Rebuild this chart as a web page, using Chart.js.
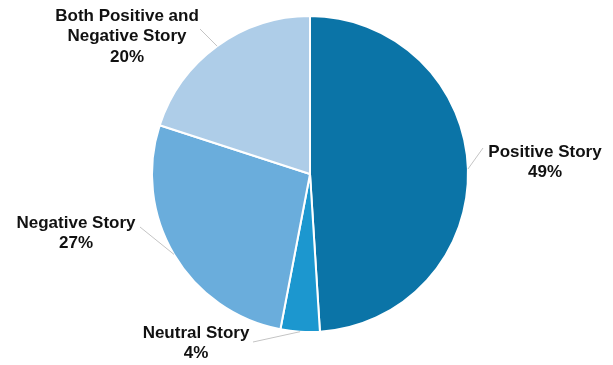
<!DOCTYPE html>
<html>
<head>
<meta charset="utf-8">
<script src="https://cdn.jsdelivr.net/npm/chart.js@4"></script>
<style>
  html, body { margin: 0; padding: 0; background: #fff; }
  #wrap { width: 613px; height: 365px; }
</style>
</head>
<body>
<div id="wrap"><canvas id="pie" width="613" height="365"></canvas></div>
<script>
const categories = ['Positive Story', 'Neutral Story', 'Negative Story', 'Both Positive and Negative Story'];
const shares = [49, 4, 27, 20];
const labelLines = [
    ['Positive Story', '49%'],
    ['Neutral Story', '4%'],
    ['Negative Story', '27%'],
    ['Both Positive and', 'Negative Story', '20%']
];
const colors = ['#0b74a7', '#1c97cf', '#6aaddc', '#aecde8'];

// label placement relative to pie centre: text centre of first line + where the leader stops
const placement = [
    { x: 235, y: -22, lx: 173, ly: -26 },
    { x: -114, y: 159, lx: -57, ly: 168 },
    { x: -234, y: 49, lx: -170, ly: 53 },
    { x: -183, y: -158, lx: -110, ly: -145 }
];

const calloutPlugin = {
    id: 'callouts',
    afterDatasetsDraw(chart) {
        const ctx = chart.ctx;
        const meta = chart.getDatasetMeta(0);
        ctx.save();
        meta.data.forEach((arc, i) => {
            const p = arc.getProps(['x', 'y', 'startAngle', 'endAngle', 'outerRadius'], true);
            const mid = (p.startAngle + p.endAngle) / 2;
            const ex = p.x + Math.cos(mid) * p.outerRadius;
            const ey = p.y + Math.sin(mid) * p.outerRadius;
            const pl = placement[i];
            ctx.strokeStyle = '#c4c4c4';
            ctx.lineWidth = 1;
            ctx.beginPath();
            ctx.moveTo(ex, ey);
            ctx.lineTo(p.x + pl.lx, p.y + pl.ly);
            ctx.stroke();
            ctx.fillStyle = '#111111';
            ctx.font = 'bold 17px "Liberation Sans"';
            ctx.textAlign = 'center';
            ctx.textBaseline = 'middle';
            labelLines[i].forEach((t, k) => {
                ctx.fillText(t, p.x + pl.x, p.y + pl.y + k * 20.5);
            });
        });
        ctx.restore();
    }
};

new Chart(document.getElementById('pie'), {
    type: 'pie',
    data: {
        labels: categories,
        datasets: [{
            data: shares,
            backgroundColor: colors,
            borderColor: '#ffffff',
            borderWidth: 2,
            hoverOffset: 0
        }]
    },
    options: {
        responsive: false,
        animation: false,
        layout: { padding: { left: 151, right: 144, top: 15, bottom: 32 } },
        plugins: {
            legend: { display: false },
            tooltip: { enabled: false }
        }
    },
    plugins: [calloutPlugin]
});
</script>
</body>
</html>
